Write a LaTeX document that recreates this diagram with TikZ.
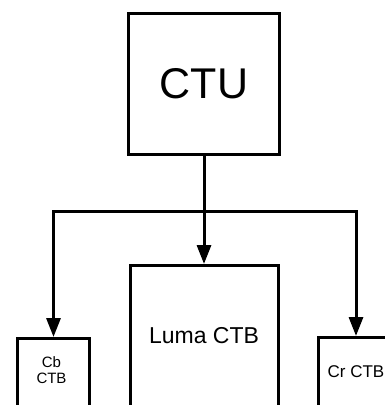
\documentclass[tikz,border=0pt]{standalone}
\usepackage{fontspec}
\setmainfont{Liberation Sans}
\usetikzlibrary{arrows.meta}
\begin{document}
\begin{tikzpicture}[x=1pt,y=-1pt,
  box/.style={draw=black, line width=3pt, rectangle, inner sep=0pt, fill=white},
  link/.style={draw=black, line width=3pt, line join=miter, -{Triangle[width=14pt,length=19pt]}},
  boxlabel/.style={anchor=north, inner sep=0pt, align=center}
]
\useasboundingbox (0,0) rectangle (385,405);
\clip (0,0) rectangle (385,405);
\node[box, minimum width=151pt, minimum height=141pt, font=\fontsize{43}{48}\selectfont] (ctu) at (204,83.5) {CTU};
\node[box, minimum width=148pt, minimum height=200pt,
  label={[boxlabel, yshift=-63pt, font=\fontsize{23}{26}\selectfont]north:Luma CTB}] (luma) at (204,365.5) {};
\node[box, minimum width=72pt, minimum height=200pt,
  label={[boxlabel, yshift=-19pt, xshift=-2pt, font=\fontsize{15}{16}\selectfont]north:Cb\\CTB}] (cb) at (53.5,438.5) {};
\node[box, minimum width=75pt, minimum height=200pt,
  label={[boxlabel, yshift=-29pt, font=\fontsize{17}{20}\selectfont]north:Cr CTB}] (cr) at (356,437.5) {};
\coordinate (fork) at (204,211);
\draw[link] (ctu.south) -- (luma.north);
\draw[link] (fork) -| (cb.north);
\draw[link] (fork) -| (cr.north);
\end{tikzpicture}
\end{document}
